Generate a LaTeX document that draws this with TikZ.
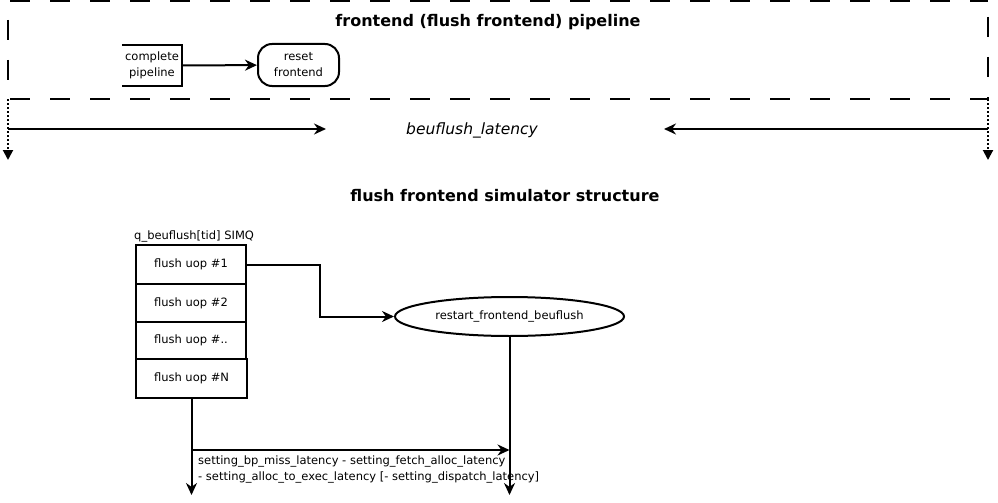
\documentclass[tikz,border=0pt]{standalone}
\usepackage{fontspec}
\setmainfont{DejaVu Sans}
\usetikzlibrary{arrows.meta,shapes.geometric}
\begin{document}
\begin{tikzpicture}[x=1pt,y=-1pt,
  ln/.style={line width=2pt},
  arr/.style={ln,-{Stealth[length=12pt,width=11pt]}},
  dotarr/.style={line width=2pt,dotted,-{Triangle[length=10pt,width=10pt]}},
  sm/.style={font=\fontsize{11.5}{16}\selectfont},
  ttl/.style={font=\fontsize{16}{19}\selectfont\bfseries},
  qbox/.style={draw,ln,minimum width=110pt,sm,inner sep=0pt,anchor=north west},
  frameh/.style={line width=2.4pt,dash pattern=on 20pt off 20pt,dash phase=38pt},
  framev/.style={line width=2.4pt,dash pattern=on 20pt off 20pt,dash phase=20pt},
]
\useasboundingbox (0,0) rectangle (998,503);
\fill[white] (0,0) rectangle (998,503);
% dashed frame
\coordinate (ftl) at (8,1);
\coordinate (ftr) at (988,1);
\coordinate (fl) at (8,99);
\coordinate (fr) at (988,99);
\draw[frameh] (ftl) -- (ftr);
\draw[frameh] (fl) -- (fr);
\draw[framev] (8,0) -- (fl);
\draw[framev] (988,-3) -- (fr);
\node[ttl] (t1) at (488,22) {frontend (flush frontend) pipeline};
\node[sm,minimum width=60pt,minimum height=41pt,align=center,inner sep=0pt] (cp) at (152,65.5) {complete\\pipeline};
\draw[ln] (cp.north west) -- (cp.north east) -- (cp.south east) -- (cp.south west);
\node[draw,ln,rounded corners=14pt,minimum width=81pt,minimum height=42pt,sm,align=center,inner sep=0pt] (rf) at (298.5,65) {reset\\frontend};
\draw[arr] (cp) -- (rf);
% latency
\coordinate (fle) at (8,160);
\coordinate (fre) at (988,160);
\draw[dotarr] (fl) -- (fle);
\draw[dotarr] (fr) -- (fre);
\node[font=\fontsize{15.5}{18}\selectfont\itshape] (lat) at (472,130) {beuflush\_latency};
\coordinate (al) at (8,129);
\coordinate (ale) at (326,129);
\coordinate (ar) at (988,129);
\coordinate (are) at (664,129);
\draw[arr] (al) -- (ale);
\draw[arr] (ar) -- (are);
% structure
\node[ttl] (t2) at (505,196) {flush frontend simulator structure};
\node[sm,anchor=south west,inner sep=0pt] (simq) at (134,242) {q\_beuflush[tid] SIMQ};
\node[qbox,minimum height=39pt] (q1) at (135,244) {flush uop \#1};
\node[qbox,minimum height=38pt] (q2) at (135,283) {flush uop \#2};
\node[qbox,minimum height=37pt] (q3) at (135,321) {flush uop \#..};
\node[qbox,minimum height=39pt,minimum width=111pt] (q4) at (135,358) {flush uop \#N};
\node[draw,ln,ellipse,minimum width=229pt,minimum height=39pt,inner sep=0pt,sm] (rs) at (509.5,316.5) {restart\_frontend\_beuflush};
\coordinate (bend) at (320,0);
\draw[arr] (q1.east) -| (bend |- rs.west) -- (rs.west);
\coordinate (bot) at (0,495);
\coordinate (mid) at (0,450);
\draw[arr] (q4.south) -- (q4.south |- bot);
\draw[arr] (rs.south) -- (rs.south |- bot);
\draw[arr] (q4.south |- mid) -- (rs.south |- mid);
\node[sm,anchor=north west,align=left,inner sep=0pt] (lbl) at (198,456) {setting\_bp\_miss\_latency - setting\_fetch\_alloc\_latency\\- setting\_alloc\_to\_exec\_latency [- setting\_dispatch\_latency]};
\end{tikzpicture}
\end{document}
